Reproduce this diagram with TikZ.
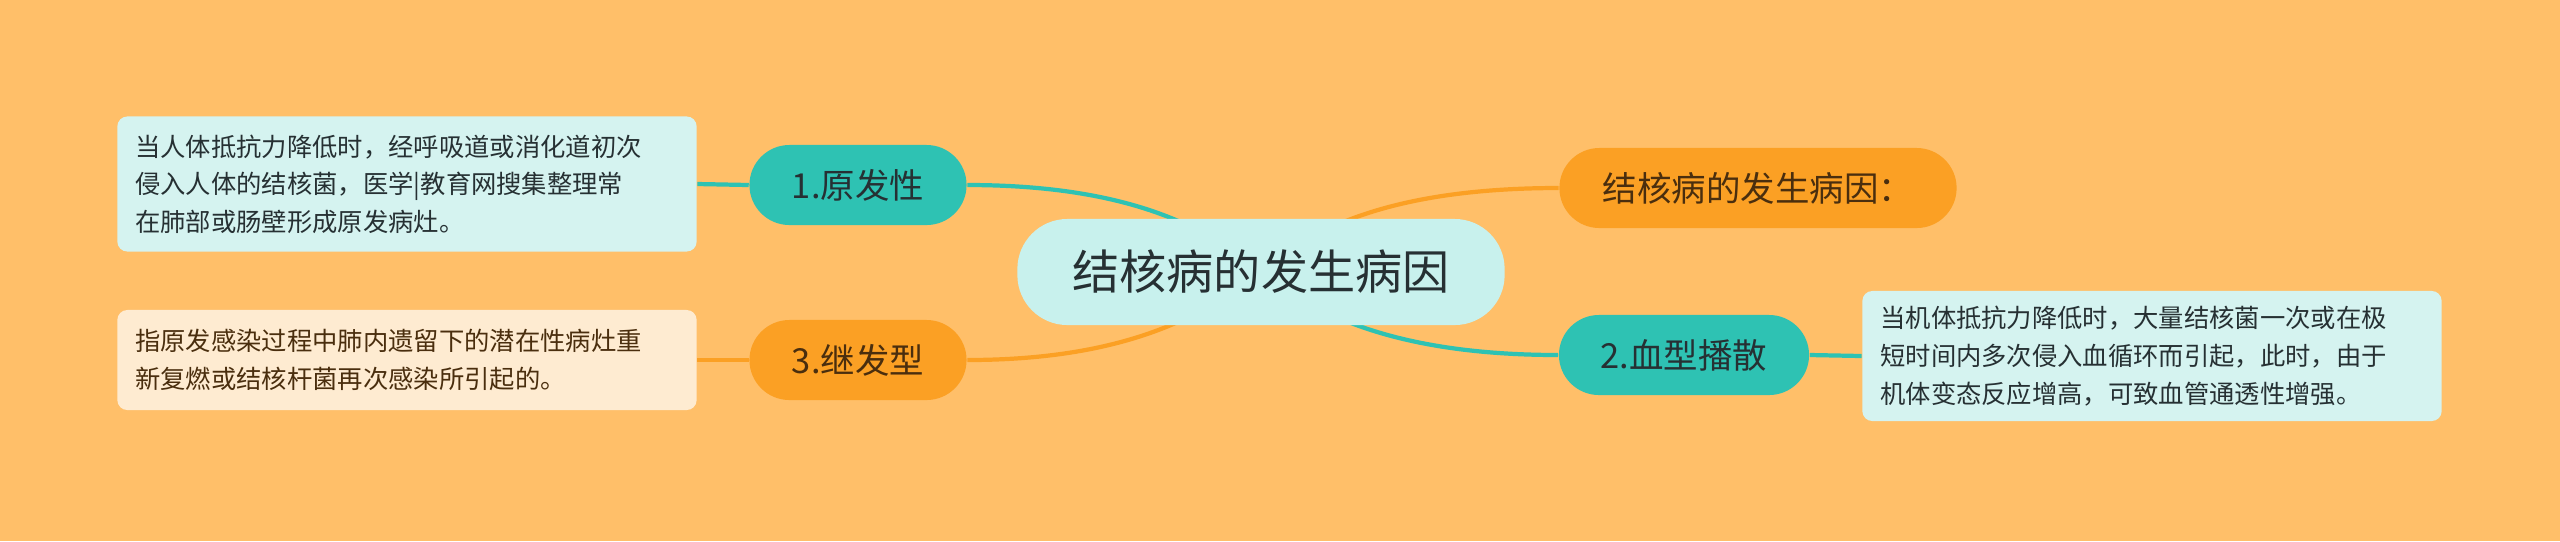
\documentclass[tikz,border=0pt]{standalone}
\usepackage{fontspec}
\setmainfont{Noto Sans CJK SC}
\usepackage{xcolor}
\usetikzlibrary{backgrounds}
\definecolor{bgorange}{HTML}{FFBF69}
\definecolor{tealc}{HTML}{2EC2B3}
\definecolor{orangec}{HTML}{FBA024}
\definecolor{cyanbox}{HTML}{D5F3F0}
\definecolor{creambox}{HTML}{FEEBD1}
\definecolor{rootfill}{HTML}{C8F1ED}
\definecolor{darktxt}{HTML}{263033}
\definecolor{browntxt}{HTML}{4A2E0E}

\begin{document}
\begin{tikzpicture}[x=0.01cm,y=-0.01cm,
    rootnode/.style={fill=rootfill,rounded corners=0.5cm,minimum width=4.87cm,minimum height=1.06cm,
      text=darktxt,font=\fontsize{13.4pt}{16pt}\selectfont},
    tealnode/.style={fill=tealc,rounded corners=0.4cm,minimum height=0.8cm,
      text=darktxt,font=\fontsize{9.8pt}{12pt}\selectfont},
    orangenode/.style={fill=orangec,rounded corners=0.4cm,minimum height=0.8cm,
      text=browntxt,font=\fontsize{9.8pt}{12pt}\selectfont},
    leafbox/.style={rounded corners=0.1cm,align=left,text width=5.43cm,inner xsep=0.18cm,
      minimum width=5.79cm,font=\fontsize{7.2pt}{10.7pt}\selectfont},
    tealline/.style={draw=tealc,line width=1.2pt},
    orangeline/.style={draw=orangec,line width=1.2pt}]
  \useasboundingbox (0,0) rectangle (2560,541);

  \node[rootnode] (root) at (1261,272) {结核病的发生病因};

  \node[tealnode,minimum width=2.17cm] (prim) at (858,185) {1.原发性};
  \node[orangenode,minimum width=2.17cm] (sec) at (858,360) {3.继发型};
  \node[orangenode,minimum width=3.97cm] (cause) at (1758,188) {结核病的发生病因：};
  \node[tealnode,minimum width=2.5cm] (blood) at (1684,355) {2.血型播散};

  \node[leafbox,fill=cyanbox,text=darktxt,minimum height=1.35cm] (primtxt) at (407,184)
    {当人体抵抗力降低时，经呼吸道或消化道初次\\侵入人体的结核菌，医学|教育网搜集整理常\\在肺部或肠壁形成原发病灶。};
  \node[leafbox,fill=creambox,text=browntxt,minimum height=1.0cm] (sectxt) at (407,360)
    {指原发感染过程中肺内遗留下的潜在性病灶重\\新复燃或结核杆菌再次感染所引起的。};
  \node[leafbox,fill=cyanbox,text=darktxt,minimum height=1.3cm] (bloodtxt) at (2152,356)
    {当机体抵抗力降低时，大量结核菌一次或在极\\短时间内多次侵入血循环而引起，此时，由于\\机体变态反应增高，可致血管通透性增强。};

  \begin{pgfonlayer}{background}
    \fill[bgorange] (0,0) rectangle (2560,541);
    \draw[tealline] (prim.east) .. controls (1150,185) and (1220,240) .. (root.center);
    \draw[orangeline] (sec.east) .. controls (1150,360) and (1220,300) .. (root.center);
    \draw[orangeline] (cause.west) .. controls (1370,188) and (1300,240) .. (root.center);
    \draw[tealline] (blood.west) .. controls (1370,355) and (1300,300) .. (root.center);
    \draw[tealline] (prim.west) -- (primtxt.east);
    \draw[orangeline] (sec.west) -- (sectxt.east);
    \draw[tealline] (blood.east) -- (bloodtxt.west);
  \end{pgfonlayer}
\end{tikzpicture}
\end{document}
